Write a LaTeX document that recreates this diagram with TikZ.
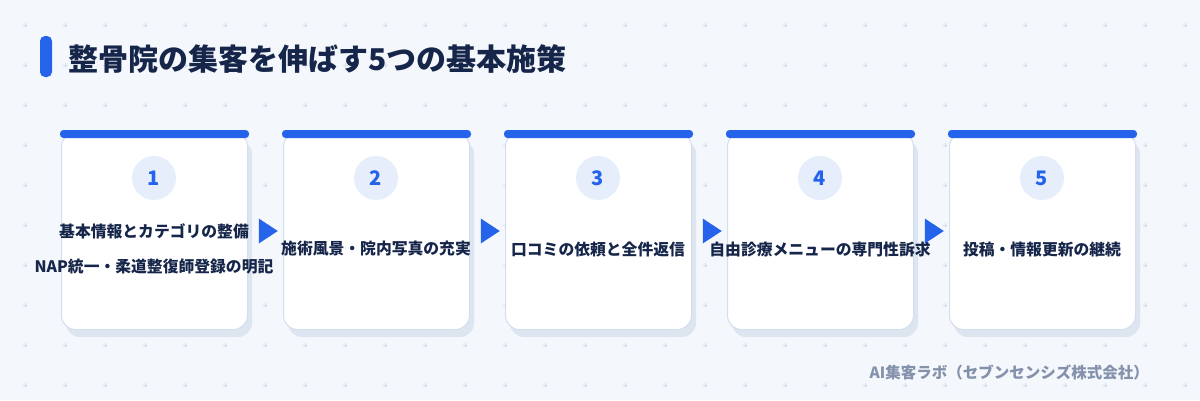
\documentclass[tikz,border=0pt]{standalone}
\usepackage{fontspec}
\setmainfont{Noto Sans CJK JP}
\usetikzlibrary{shapes.geometric}
\definecolor{bgc}{HTML}{F4F7FC}
\definecolor{crossc}{HTML}{D6DEEA}
\definecolor{blue}{HTML}{2563EB}
\definecolor{navy}{HTML}{16264A}
\definecolor{cardborder}{HTML}{D3DEEE}
\definecolor{shadowc}{HTML}{DDE5F1}
\definecolor{circc}{HTML}{E6EEFB}
\definecolor{footc}{HTML}{8391AA}
\tikzset{
  cardbox/.style={draw=cardborder, line width=1pt, fill=white, rounded corners=14pt,
    minimum width=186pt, minimum height=197pt, inner sep=0pt, anchor=north west},
  numcirc/.style={circle, fill=circc, minimum size=44pt, inner sep=0pt, text=blue,
    font=\bfseries\fontsize{20pt}{24pt}\selectfont},
  cardtext/.style={text=navy, inner sep=0pt, font=\bfseries\fontsize{15.8pt}{19pt}\selectfont},
  tri/.style={isosceles triangle, isosceles triangle stretches, fill=blue, draw=none,
    minimum height=19pt, minimum width=25pt, inner sep=0pt},
  crossmark/.style={draw=crossc, line width=0.9pt}
}
\begin{document}
\begin{tikzpicture}[x=1pt,y=-1pt]
\fill[bgc] (0,0) rectangle (1200,400);
\useasboundingbox (0,0) rectangle (1200,400);
\foreach \x in {25,65,...,1185}{
  \foreach \y in {25,65,...,385}{
    \draw[crossmark] (\x-2.5,\y) -- (\x+2.5,\y) (\x,\y-2.5) -- (\x,\y+2.5);
  }
}
% title
\fill[blue, rounded corners=5pt] (40,36) rectangle (52,77);
\node[anchor=west, text=navy, inner sep=0pt, font=\bfseries\fontsize{30pt}{36pt}\selectfont] (title) at (68,59) {整骨院の集客を伸ばす5つの基本施策};
% cards
\foreach \k/\n in {0/1,1/2,2/3,3/4,4/5}{
  \pgfmathsetmacro{\L}{61+222*\k}
  \fill[shadowc, rounded corners=14pt] (\L+5,140) rectangle (\L+191,337);
  \node[cardbox] (c\n) at (\L,132) {};
  \fill[blue, rounded corners=3.5pt] (\L-1,130) rectangle (\L+188,138);
  \node[numcirc] (n\n) at (\L+93,178) {\n};
}
\node[cardtext] (t1a) at (154,231) {基本情報とカテゴリの整備};
\node[cardtext] (t1b) at (154,267) {NAP統一・柔道整復師登録の明記};
\node[cardtext] (t2) at (376,249) {施術風景・院内写真の充実};
\node[cardtext] (t3) at (598,249) {口コミの依頼と全件返信};
\node[cardtext] (t4) at (820,249) {自由診療メニューの専門性訴求};
\node[cardtext] (t5) at (1042,249) {投稿・情報更新の継続};
% arrows
\foreach \i in {1,2,3,4}{
  \pgfmathsetmacro{\X}{265.5+222*(\i-1)}
  \node[tri] (a\i) at (\X,231) {};
}
% footer
\node[anchor=east, text=footc, inner sep=0pt, font=\bfseries\fontsize{15.5pt}{18pt}\selectfont] (foot) at (1149,372) {AI集客ラボ（セブンセンシズ株式会社）};
\end{tikzpicture}
\end{document}
